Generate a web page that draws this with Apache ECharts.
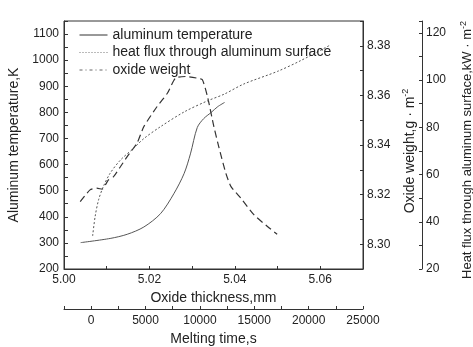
<!DOCTYPE html>
<html>
<head>
<meta charset="utf-8">
<script src="https://cdn.jsdelivr.net/npm/echarts@6/dist/echarts.min.js"></script>
<style>
  html, body { margin: 0; padding: 0; background: #fff; }
  #chart { width: 473px; height: 347px; }
</style>
</head>
<body>
<div id="chart"></div>
<script>
/** aluminum temperature (K) against oxide thickness (mm) */
const tempThickness = [5.0039, 5.0108, 5.0148, 5.0187, 5.0226, 5.0257, 5.0281, 5.0296, 5.0312, 5.0327, 5.0344, 5.0360, 5.0376];
const temperature = [301, 317, 333, 361, 412, 488, 565, 641, 742, 776, 799, 822, 838];

/** heat flux through aluminum surface (kW/m2) */
const fluxThickness = [5.0038, 5.0061, 5.0077, 5.0089, 5.0104, 5.0116, 5.0132, 5.0148, 5.0171, 5.0187, 5.0218, 5.0242, 5.0261, 5.0285, 5.0312, 5.0324, 5.0336, 5.0351, 5.0363, 5.0379, 5.0391, 5.0414, 5.0445, 5.0477, 5.0499];
const heatFlux = [48.5, 53.5, 54.2, 53.8, 57.7, 59.1, 63.3, 67.6, 73.3, 80.3, 88.8, 94.4, 100.8, 101.5, 100.8, 100.1, 92.9, 80.2, 71.3, 60.5, 54.9, 50.0, 42.9, 37.9, 34.7];

/** oxide weight (g/m2) */
const weightThickness = [5.0067, 5.0073, 5.0081, 5.0092, 5.0108, 5.0132, 5.0163, 5.0187, 5.0226, 5.0282, 5.0336, 5.0375, 5.0421, 5.0500, 5.0555, 5.0621];
const oxideWeight = [8.3033, 8.3113, 8.3179, 8.3232, 8.3286, 8.3339, 8.3387, 8.3426, 8.3474, 8.3534, 8.3578, 8.3605, 8.3646, 8.3697, 8.3741, 8.3801];

const seriesNames = ["aluminum temperature", "heat flux through aluminum surface", "oxide weight"];

const zip = (xs, ys) => xs.map((x, i) => [x, ys[i]]);

const font = "'Liberation Sans', Arial, sans-serif";
const ink = "#222";
const axisLine = { show: true, onZero: false, lineStyle: { color: "#333", width: 1 } };
const tick = (len) => ({ show: true, inside: true, length: len, lineStyle: { color: "#333" } });
const label = (fmt, margin) => ({
  color: ink, fontSize: 12, fontFamily: font, margin, formatter: fmt,
});
const nameStyle = (size, padding) => ({
  color: ink, fontSize: size, fontFamily: font, padding,
  rich: { sup: { fontSize: 9, verticalAlign: "top", padding: [0, 0, 8, 0], color: ink, fontFamily: font } },
});
const noMarker = { opacity: 0 };

const chart = echarts.init(document.getElementById("chart"), null, { renderer: "canvas" });

chart.setOption({
  animation: false,
  grid: {
    left: 64, right: 110, top: 21, bottom: 78,
    outerBoundsMode: "none",
    show: true, borderColor: "#333", borderWidth: 1,
  },

  legend: {
    orient: "vertical",
    left: 79,
    top: 28,
    padding: 0,
    itemWidth: 28,
    itemHeight: 14,
    itemGap: 3.5,
    selectedMode: false,
    textStyle: { color: ink, fontSize: 14, fontFamily: font },
    data: [
      { name: seriesNames[0], itemStyle: noMarker, lineStyle: { color: "#333", width: 1, type: "solid" } },
      { name: seriesNames[1], itemStyle: noMarker, lineStyle: { color: "#777", width: 1, type: [1, 2] } },
      { name: seriesNames[2], itemStyle: noMarker, lineStyle: { color: "#666", width: 1, type: [3, 3, 1, 3] } },
    ],
  },

  xAxis: [
    {
      type: "value",
      min: 5.0,
      max: 5.07,
      interval: 0.01,
      position: "bottom",
      axisLine,
      axisTick: tick(3),
      splitLine: { show: false },
      axisLabel: label((v) => (Math.round(v * 100) % 2 === 0 ? v.toFixed(2) : ""), 5),
      name: "Oxide thickness,mm",
      nameLocation: "middle",
      nameGap: 21,
      nameTextStyle: nameStyle(14),
    },
    {
      type: "value",
      min: -2500,
      max: 25000,
      interval: 2500,
      position: "bottom",
      offset: 40,
      axisLine,
      axisTick: tick(3),
      splitLine: { show: false },
      axisLabel: label((v) => (v >= 0 && v % 5000 === 0 ? String(v) : ""), 6),
      name: "Melting time,s",
      nameLocation: "middle",
      nameGap: 22,
      nameTextStyle: nameStyle(14),
    },
  ],

  yAxis: [
    {
      type: "value",
      min: 200,
      max: 1150,
      interval: 50,
      position: "left",
      axisLine,
      axisTick: tick(4),
      splitLine: { show: false },
      axisLabel: label((v) => (v % 100 === 0 ? String(v) : ""), 5),
      name: "Aluminum temperature,K",
      nameLocation: "middle",
      nameGap: 31,
      nameTextStyle: nameStyle(14),
    },
    {
      type: "value",
      min: 8.29,
      max: 8.39,
      interval: 0.01,
      position: "right",
      axisLine,
      axisTick: tick(3),
      splitLine: { show: false },
      axisLabel: label((v) => (Math.round(v * 100) % 2 === 0 && v < 8.385 && v > 8.295 ? v.toFixed(2) : ""), 4),
      name: "Oxide weight,g · m{sup|-2}",
      nameLocation: "middle",
      nameRotate: 90,
      nameGap: 30,
      nameTextStyle: nameStyle(14, [0, 12, 0, 0]),
    },
    {
      type: "value",
      min: 20,
      max: 125,
      interval: 10,
      position: "right",
      offset: 59,
      axisLine,
      axisTick: tick(3),
      splitLine: { show: false },
      axisLabel: label((v) => (v % 20 === 0 ? String(v) : ""), 4),
      name: "Heat flux through aluminum surface,kW · m{sup|-2}",
      nameLocation: "middle",
      nameRotate: 90,
      nameGap: 37,
      nameTextStyle: nameStyle(13, [0, 10, 0, 0]),
    },
  ],

  series: [
    {
      name: seriesNames[0],
      type: "line",
      xAxisIndex: 0,
      yAxisIndex: 0,
      data: zip(tempThickness, temperature),
      smooth: 0.3,
      showSymbol: false,
      symbol: "none",
      lineStyle: { color: "#555", width: 1, type: "solid" },
    },
    {
      name: seriesNames[1],
      type: "line",
      xAxisIndex: 0,
      yAxisIndex: 2,
      data: zip(fluxThickness, heatFlux),
      smooth: 0.2,
      showSymbol: false,
      symbol: "none",
      lineStyle: { color: "#333", width: 1.2, type: [7, 4] },
    },
    {
      name: seriesNames[2],
      type: "line",
      xAxisIndex: 0,
      yAxisIndex: 1,
      data: zip(weightThickness, oxideWeight),
      smooth: 0.3,
      showSymbol: false,
      symbol: "none",
      lineStyle: { color: "#555", width: 1, type: [2, 2] },
    },
  ],
});
</script>
</body>
</html>
